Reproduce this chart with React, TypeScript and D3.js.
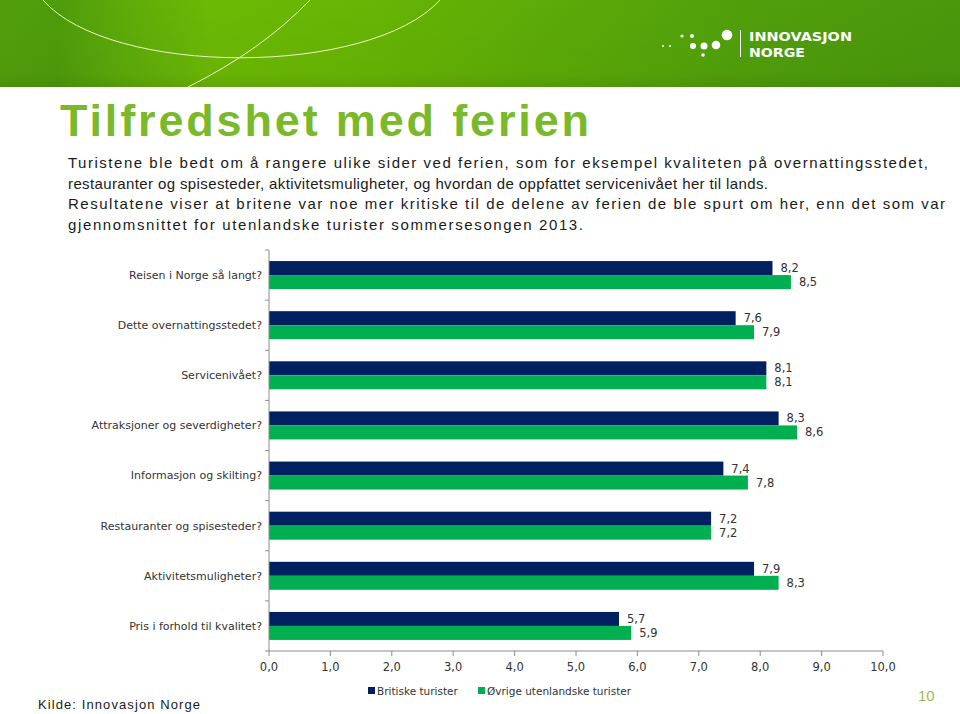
import React from "react";
import * as d3 from "d3";

const categories = [
  "Reisen i Norge så langt?",
  "Dette overnattingsstedet?",
  "Servicenivået?",
  "Attraksjoner og severdigheter?",
  "Informasjon og skilting?",
  "Restauranter og spisesteder?",
  "Aktivitetsmuligheter?",
  "Pris i forhold til kvalitet?",
];
const seriesNames = ["Britiske turister", "Øvrige utenlandske turister"];
const britiske = [8.2, 7.6, 8.1, 8.3, 7.4, 7.2, 7.9, 5.7];
const ovrige = [8.5, 7.9, 8.1, 8.6, 7.8, 7.2, 8.3, 5.9];
const xTicks = [0, 1, 2, 3, 4, 5, 6, 7, 8, 9, 10];
const colors = ["#002060", "#00b050"];

const bodyLines = [
  "Turistene ble bedt om å rangere ulike sider ved ferien, som for eksempel kvaliteten på overnattingsstedet,",
  "restauranter og spisesteder, aktivitetsmuligheter, og hvordan de oppfattet servicenivået her til lands.",
  "Resultatene viser at britene var noe mer kritiske til de delene av ferien de ble spurt om her, enn det som var",
  "gjennomsnittet for utenlandske turister sommersesongen 2013.",
];
const bodyWidths = [860, 700, 877, 515];

export default function App() {
  const x = d3.scaleLinear().domain([0, 10]).range([269, 883]);
  const y = d3.scaleBand<string>().domain(categories).range([250, 651]).padding(0);
  const inner = d3
    .scaleBand<string>()
    .domain(seriesNames)
    .range([0, y.bandwidth()])
    .paddingInner(0)
    .paddingOuter(0.79);
  const data = [britiske, ovrige];
  const fmt = (v: number) => v.toFixed(1).replace(".", ",");
  const axisColor = "#8c8c8c";
  const boundaries = categories.map((c) => y(c)!).concat([651]);

  return (
    <svg
      width={960}
      height={714}
      style={{ position: "absolute", left: 0, top: 0, background: "#fff" }}
    >
      <defs>
        <linearGradient id="hdr" x1="0" x2="1" y1="0" y2="0">
          <stop offset="0%" stopColor="#529f0c" />
          <stop offset="6%" stopColor="#4e9c0a" />
          <stop offset="12%" stopColor="#5ca90a" />
          <stop offset="22%" stopColor="#6cb905" />
          <stop offset="40%" stopColor="#66b404" />
          <stop offset="60%" stopColor="#5aa908" />
          <stop offset="80%" stopColor="#4f9e0b" />
          <stop offset="100%" stopColor="#4a980c" />
        </linearGradient>
        <linearGradient id="hdrv" x1="0" x2="0" y1="0" y2="1">
          <stop offset="0%" stopColor="#000" stopOpacity="0" />
          <stop offset="85%" stopColor="#000" stopOpacity="0.03" />
          <stop offset="100%" stopColor="#000" stopOpacity="0.1" />
        </linearGradient>
      </defs>

      {/* Header */}
      <rect x={0} y={0} width={960} height={87} fill="url(#hdr)" />
      <rect x={0} y={0} width={960} height={87} fill="url(#hdrv)" />
      <path d="M43,0 C110,77 370,77 440,0" fill="none" stroke="#eaf7c4" strokeWidth={1} />
      <path d="M310,0 Q262,50 188,87" fill="none" stroke="#eaf7c4" strokeWidth={1} />
      {/* logo */}
      <g fill="#fff">
        <circle cx={663} cy={46} r={1} />
        <circle cx={670} cy={46} r={1} />
        <circle cx={682} cy={36} r={1.6} />
        <circle cx={692} cy={36} r={2} />
        <circle cx={693} cy={46} r={3} />
        <circle cx={704} cy={46} r={3.5} />
        <circle cx={716} cy={45} r={4.3} />
        <circle cx={703} cy={55} r={1.8} />
        <circle cx={727} cy={35} r={5.3} />
        <rect x={740} y={30} width={1} height={27} />
        <text x={749} y={41} fontFamily="'DejaVu Sans', sans-serif" fontWeight="bold" fontSize={13} textLength={103} lengthAdjust="spacingAndGlyphs">
          INNOVASJON
        </text>
        <text x={749} y={57} fontFamily="'DejaVu Sans', sans-serif" fontWeight="bold" fontSize={13} textLength={56} lengthAdjust="spacingAndGlyphs">
          NORGE
        </text>
      </g>

      {/* Title */}
      <text
        x={60}
        y={136}
        fontFamily="'Liberation Sans', Arial, sans-serif"
        fontWeight="bold"
        fontSize={45}
        fill="#7ab929"
        textLength={529}
        lengthAdjust="spacing"
      >
        Tilfredshet med ferien
      </text>

      {/* Body text */}
      {bodyLines.map((l, i) => (
        <text
          key={i}
          x={68}
          y={168 + i * 20.5}
          fontFamily="'Liberation Sans', Arial, sans-serif"
          fontSize={15}
          fill="#1a1a1a"
          textLength={bodyWidths[i]}
          lengthAdjust="spacing"
        >
          {l}
        </text>
      ))}

      {/* Bars */}
      {categories.map((c, ci) => (
        <g key={c}>
          {seriesNames.map((s, si) => {
            const v = data[si][ci];
            const by = y(c)! + inner(s)!;
            return (
              <g key={s}>
                <rect x={x(0)} y={by} width={x(v) - x(0)} height={inner.bandwidth()} fill={colors[si]} />
                <text
                  x={x(v) + 8}
                  y={by + inner.bandwidth() / 2}
                  dy="0.35em"
                  fontFamily="'DejaVu Sans', Verdana, sans-serif"
                  fontSize={11.5}
                  fill="#333"
                >
                  {fmt(v)}
                </text>
              </g>
            );
          })}
          <text
            x={262}
            y={y(c)! + y.bandwidth() / 2}
            dy="0.35em"
            textAnchor="end"
            fontFamily="'DejaVu Sans', Verdana, sans-serif"
            fontSize={11}
            fill="#333"
          >
            {c}
          </text>
        </g>
      ))}

      {/* Y axis */}
      <line x1={269} x2={269} y1={250} y2={651} stroke={axisColor} />
      {boundaries.map((b, i) => (
        <line key={i} x1={265} x2={269} y1={b} y2={b} stroke={axisColor} />
      ))}

      {/* X axis */}
      <line x1={x(0)} x2={x(10)} y1={651} y2={651} stroke={axisColor} />
      {xTicks.map((t) => (
        <g key={t}>
          <line x1={x(t)} x2={x(t)} y1={651} y2={656} stroke={axisColor} />
          <text
            x={x(t)}
            y={671}
            textAnchor="middle"
            fontFamily="'DejaVu Sans', Verdana, sans-serif"
            fontSize={11.5}
            fill="#333"
          >
            {fmt(t)}
          </text>
        </g>
      ))}

      {/* Legend */}
      {seriesNames.map((s, i) => {
        const lx = [368, 478][i];
        return (
          <g key={s}>
            <rect x={lx} y={687} width={7} height={7} fill={colors[i]} />
            <text
              x={lx + 9}
              y={695}
              fontFamily="'DejaVu Sans', Verdana, sans-serif"
              fontSize={10.5}
              fill="#333"
            >
              {s}
            </text>
          </g>
        );
      })}

      {/* Footer */}
      <text
        x={38}
        y={709}
        fontFamily="'Liberation Sans', Arial, sans-serif"
        fontSize={13}
        fill="#1a1a1a"
        textLength={162}
        lengthAdjust="spacing"
      >
        Kilde: Innovasjon Norge
      </text>
      <text x={918} y={701} fontFamily="'Liberation Sans', Arial, sans-serif" fontSize={15} fill="#9bbb59">
        10
      </text>
    </svg>
  );
}
